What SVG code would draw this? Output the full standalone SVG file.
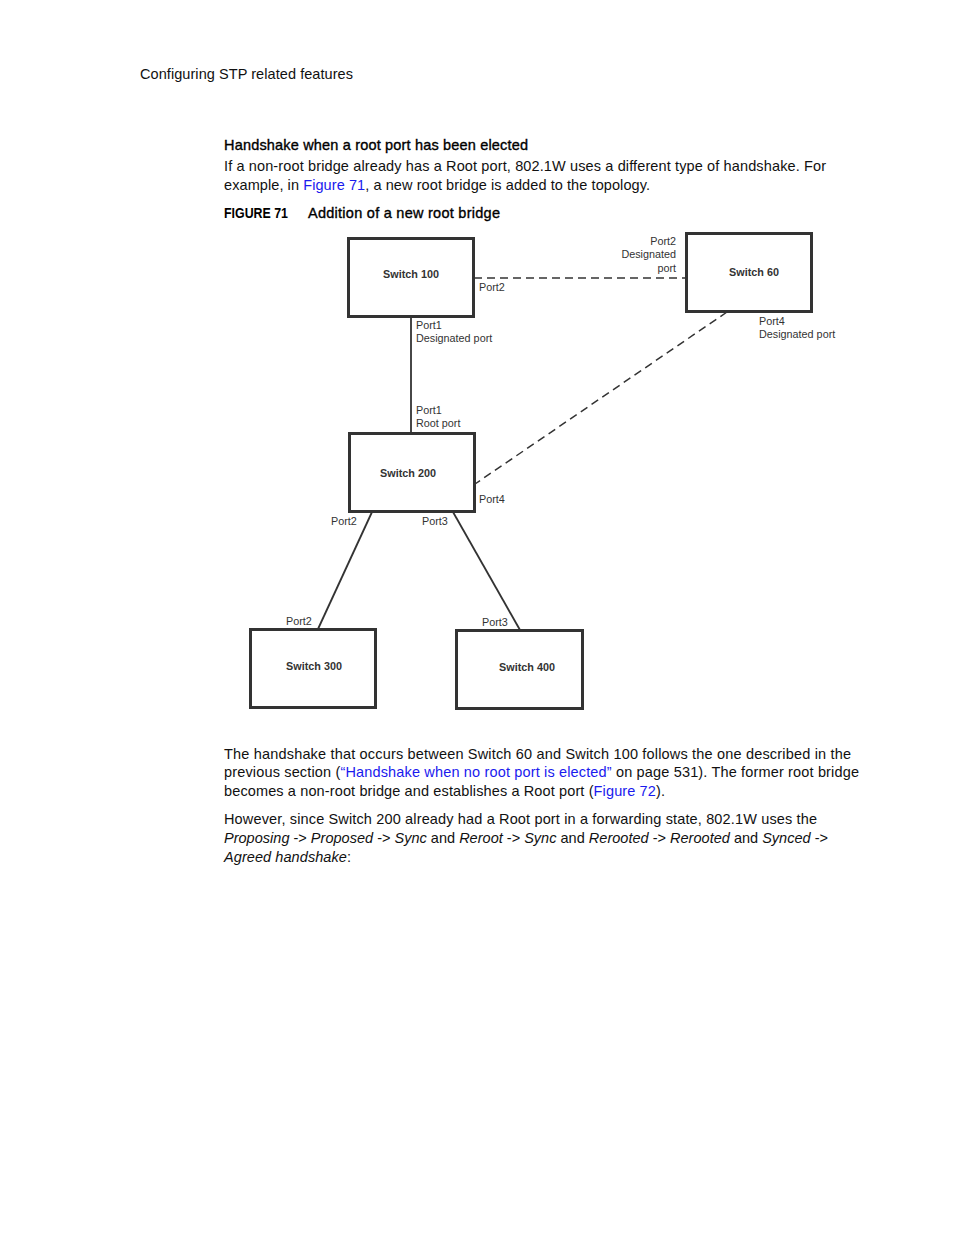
<svg xmlns="http://www.w3.org/2000/svg" width="954" height="1235" viewBox="0 0 954 1235">
<style>
.t{font-family:"Liberation Sans",Arial,sans-serif;font-size:14.5px;fill:#111}
.h{font-family:"Liberation Sans",Arial,sans-serif;font-size:14.5px;fill:#000;stroke:#000;stroke-width:0.35}
.fig{font-family:"Liberation Sans",Arial,sans-serif;font-size:14px;font-weight:bold;fill:#000}
.lk{fill:#1a1aee}
.box{fill:#fff;stroke:#333;stroke-width:3}
.sw{font-family:"Liberation Sans",Arial,sans-serif;font-size:10.8px;font-weight:bold;fill:#333;text-anchor:middle}
.pl{font-family:"Liberation Sans",Arial,sans-serif;font-size:10.8px;fill:#333}
.solid{stroke:#333;stroke-width:1.8;fill:none}
.dash{stroke:#333;stroke-width:1.5;fill:none;stroke-dasharray:8 5}
</style>
<rect width="954" height="1235" fill="#fff"/>
<text class="t" x="140" y="79" textLength="213">Configuring STP related features</text>
<text class="h" x="224" y="150" textLength="304">Handshake when a root port has been elected</text>
<text class="t" x="224" y="171" textLength="602">If a non-root bridge already has a Root port, 802.1W uses a different type of handshake. For</text>
<text class="t" x="224" y="190" textLength="426">example, in <tspan class="lk">Figure 71</tspan>, a new root bridge is added to the topology.</text>
<text class="fig" x="224" y="218" textLength="64" lengthAdjust="spacingAndGlyphs">FIGURE 71</text>
<text class="h" x="308" y="218" textLength="192">Addition of a new root bridge</text>

<g id="connectors">
<line class="solid" x1="411" y1="316" x2="411" y2="433"/>
<line class="dash" x1="474" y1="278" x2="686" y2="278"/>
<line class="dash" x1="727" y1="312" x2="475" y2="484"/>
<line class="solid" x1="372" y1="512" x2="318" y2="629"/>
<line class="solid" x1="453" y1="512" x2="520" y2="630"/>
</g>

<g id="switch100">
<rect class="box" x="348.5" y="238.5" width="125" height="78"/>
<text class="sw" x="411" y="278">Switch 100</text>
<text class="pl" x="479" y="291">Port2</text>
<text class="pl" x="416" y="329">Port1</text>
<text class="pl" x="416" y="342">Designated port</text>
</g>
<g id="switch60">
<rect class="box" x="686.5" y="233.5" width="125" height="78"/>
<text class="sw" x="754" y="276">Switch 60</text>
<text class="pl" x="676" y="245" text-anchor="end">Port2</text>
<text class="pl" x="676" y="258" text-anchor="end">Designated</text>
<text class="pl" x="676" y="272" text-anchor="end">port</text>
<text class="pl" x="759" y="325">Port4</text>
<text class="pl" x="759" y="338">Designated port</text>
</g>
<g id="switch200">
<rect class="box" x="349.5" y="433.5" width="125" height="78"/>
<text class="sw" x="408" y="477">Switch 200</text>
<text class="pl" x="416" y="414">Port1</text>
<text class="pl" x="416" y="427">Root port</text>
<text class="pl" x="479" y="503">Port4</text>
<text class="pl" x="331" y="525">Port2</text>
<text class="pl" x="422" y="525">Port3</text>
</g>
<g id="switch300">
<rect class="box" x="250.5" y="629.5" width="125" height="78"/>
<text class="sw" x="314" y="670">Switch 300</text>
<text class="pl" x="286" y="625">Port2</text>
</g>
<g id="switch400">
<rect class="box" x="456.5" y="630.5" width="126" height="78"/>
<text class="sw" x="527" y="671">Switch 400</text>
<text class="pl" x="482" y="626">Port3</text>
</g>

<text class="t" x="224" y="759" textLength="627">The handshake that occurs between Switch 60 and Switch 100 follows the one described in the</text>
<text class="t" x="224" y="777" textLength="635">previous section (<tspan class="lk">“Handshake when no root port is elected”</tspan> on page 531). The former root bridge</text>
<text class="t" x="224" y="796" textLength="441">becomes a non-root bridge and establishes a Root port (<tspan class="lk">Figure 72</tspan>).</text>
<text class="t" x="224" y="824" textLength="593">However, since Switch 200 already had a Root port in a forwarding state, 802.1W uses the</text>
<text class="t" x="224" y="843" textLength="604"><tspan font-style="italic">Proposing</tspan> -&gt; <tspan font-style="italic">Proposed</tspan>  -&gt; <tspan font-style="italic">Sync</tspan> and <tspan font-style="italic">Reroot</tspan> -&gt; <tspan font-style="italic">Sync</tspan> and <tspan font-style="italic">Rerooted</tspan> -&gt; <tspan font-style="italic">Rerooted</tspan> and <tspan font-style="italic">Synced</tspan> -&gt;</text>
<text class="t" x="224" y="862" textLength="127"><tspan font-style="italic">Agreed handshake</tspan>:</text>
</svg>
